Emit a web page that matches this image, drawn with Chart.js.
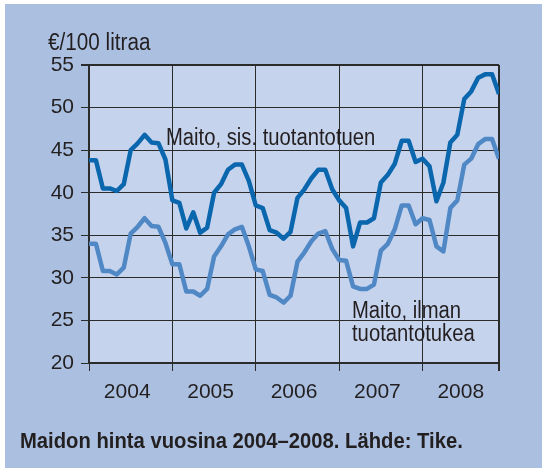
<!DOCTYPE html>
<html>
<head>
<meta charset="utf-8">
<script src="https://cdn.jsdelivr.net/npm/chart.js@4.4.0/dist/chart.umd.min.js"></script>
<style>
    html, body { margin: 0; padding: 0; background: #ffffff; }
    #panel { position: absolute; left: 5px; top: 4px; width: 537px; height: 464px; background: #abc0e1; }
    #milkChart { position: absolute; left: 0; top: 0; }
</style>
</head>
<body>
<div id="panel"></div>
<canvas id="milkChart" width="542" height="468"></canvas>
<script>
// Maidon hinta 2004-2008, kuukausittain (€/100 litraa)
const years = ['2004', '2005', '2006', '2007', '2008'];
const yearStarts = [0, 12, 24, 36, 48, 59];
const yearMids = [5.5, 17.5, 29.5, 41.5, 53.5];

const priceWithAid = [
    43.8, 43.8, 40.5, 40.5, 40.2, 41.0, 45.0, 45.8, 46.8, 45.9, 45.8, 43.9,
    39.1, 38.8, 35.8, 37.7, 35.3, 35.9, 40.0, 41.0, 42.7, 43.3, 43.3, 41.4,
    38.5, 38.2, 35.6, 35.3, 34.6, 35.4, 39.4, 40.4, 41.7, 42.7, 42.7, 40.4,
    39.1, 38.2, 33.7, 36.5, 36.5, 37.0, 41.2, 42.1, 43.4, 46.1, 46.1, 43.6,
    44.0, 43.1, 39.0, 41.2, 45.9, 46.8, 51.0, 51.9, 53.5, 53.9, 53.9, 51.6
];

const priceWithoutAid = [
    34.0, 34.0, 30.8, 30.8, 30.4, 31.2, 35.2, 36.0, 37.0, 36.1, 36.0, 34.1,
    31.6, 31.6, 28.4, 28.4, 27.9, 28.7, 32.5, 33.7, 35.1, 35.7, 36.0, 33.7,
    31.0, 30.8, 28.0, 27.7, 27.1, 27.9, 31.9, 33.0, 34.3, 35.2, 35.5, 33.4,
    32.1, 32.0, 29.0, 28.7, 28.7, 29.2, 33.2, 34.0, 35.7, 38.5, 38.5, 36.3,
    37.0, 36.8, 33.7, 33.1, 38.2, 39.1, 43.3, 44.0, 45.7, 46.3, 46.3, 44.0
];

const months = priceWithAid.map(function(v, i) { return i; });

const textFont = '"Liberation Sans", Arial, sans-serif';
const textColor = '#231f20';
const gridColor = '#2b2b2b';

// narrow-looking text: squeeze horizontally
function narrowText(c, text, x, y, squeeze) {
    c.save();
    c.translate(x, y);
    c.scale(squeeze, 1);
    c.fillText(text, 0, 0);
    c.restore();
}

document.addEventListener('DOMContentLoaded', function() {
    const ctx = document.getElementById('milkChart').getContext('2d');

    new Chart(ctx, {
        type: 'line',
        data: {
            labels: months,
            datasets: [{
                label: 'Maito, sis. tuotantotuen',
                data: priceWithAid,
                borderColor: '#0a66ad',
                borderWidth: 4.5,
                pointRadius: 0,
                tension: 0,
                borderJoinStyle: 'round'
            }, {
                label: 'Maito, ilman tuotantotukea',
                data: priceWithoutAid,
                borderColor: '#4f88c5',
                borderWidth: 4.5,
                pointRadius: 0,
                tension: 0,
                borderJoinStyle: 'round'
            }]
        },
        options: {
            responsive: false,
            animation: false,
            layout: {
                padding: { top: 65, right: 43, bottom: 0, left: 0 }
            },
            scales: {
                x: {
                    type: 'linear',
                    min: 0,
                    max: 59,
                    afterBuildTicks: function(scale) {
                        scale.ticks = yearStarts.concat(yearMids)
                            .sort(function(a, b) { return a - b; })
                            .map(function(v) { return { value: v }; });
                    },
                    afterFit: function(scale) {
                        scale.height = 105;
                    },
                    grid: {
                        color: function(c) {
                            return c.tick && yearStarts.indexOf(c.tick.value) >= 0 ? gridColor : 'transparent';
                        },
                        tickColor: function(c) {
                            return c.tick && yearStarts.indexOf(c.tick.value) >= 0 ? gridColor : 'transparent';
                        },
                        lineWidth: function(c) {
                            return c.tick && c.tick.value === 59 ? 2 : 1;
                        },
                        tickLength: 8
                    },
                    border: {
                        color: gridColor,
                        width: 2
                    },
                    ticks: {
                        autoSkip: false,
                        maxRotation: 0,
                        padding: 9,
                        color: textColor,
                        font: { family: textFont, size: 21 },
                        callback: function(value) {
                            const i = yearMids.indexOf(value);
                            return i >= 0 ? years[i] : '';
                        }
                    }
                },
                y: {
                    min: 20,
                    max: 55,
                    afterFit: function(scale) {
                        scale.width = 89;
                    },
                    grid: {
                        color: gridColor,
                        tickColor: gridColor,
                        lineWidth: function(c) {
                            return c.tick && c.tick.value === 55 ? 2 : 1;
                        },
                        tickLength: 8
                    },
                    border: {
                        color: gridColor,
                        width: 2
                    },
                    ticks: {
                        stepSize: 5,
                        padding: 7,
                        color: textColor,
                        font: { family: textFont, size: 21 }
                    }
                }
            },
            plugins: {
                legend: { display: false },
                tooltip: { enabled: false }
            }
        },
        plugins: [{
            beforeDraw: function(chart) {
                const a = chart.chartArea;
                const c = chart.ctx;
                c.save();
                c.fillStyle = '#c6d3ed';
                c.fillRect(a.left, a.top, a.right - a.left, a.bottom - a.top);
                c.restore();
            },
            afterDraw: function(chart) {
                const c = chart.ctx;
                c.save();
                c.fillStyle = textColor;
                c.textAlign = 'left';
                c.textBaseline = 'alphabetic';
                c.font = '23px ' + textFont;
                narrowText(c, '€/100 litraa', 48, 50, 0.9);
                narrowText(c, 'Maito, sis. tuotantotuen', 166, 145, 0.88);
                narrowText(c, 'Maito, ilman', 352, 318, 0.88);
                narrowText(c, 'tuotantotukea', 352, 341, 0.88);
                c.font = 'bold 22px ' + textFont;
                narrowText(c, 'Maidon hinta vuosina 2004\u20132008. Lähde: Tike.', 20, 448, 0.92);
                c.restore();
            }
        }]
    });
});
</script>
</body>
</html>
